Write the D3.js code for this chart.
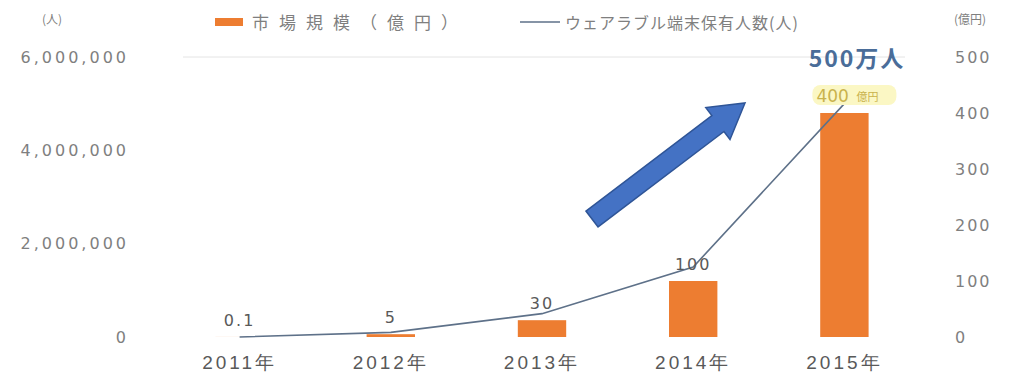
<!DOCTYPE html>
<html>
<head>
<meta charset="utf-8">
<script src="https://cdn.jsdelivr.net/npm/d3@7"></script>
<style>
  body { margin: 0; background: #fff; }
  svg { display: block; font-family: "Noto Sans CJK JP", "DejaVu Sans", sans-serif; }
</style>
</head>
<body>
<svg id="chart" width="1017" height="378"></svg>
<script>
const years = ["2011年", "2012年", "2013年", "2014年", "2015年"];
const marketSize = [0.1, 5, 30, 100, 400];          // 億円 (right axis)
const marketLabels = ["0.1", "5", "30", "100", "400億円"];
const users = [0, 100000, 500000, 1500000, 5000000]; // 人 (left axis)
const leftTicks = [0, 2000000, 4000000, 6000000];
const rightTicks = [0, 100, 200, 300, 400, 500];

const barColor = "#ed7d31";
const lineColor = "#5e7189";
const textGray = "#7f7f7f";

const svg = d3.select("#chart");
const plotLeft = 164, plotRight = 920, plotTop = 57, plotBottom = 337;

const x = d3.scaleBand().domain(years).range([plotLeft, plotRight])
    .paddingInner(0.68).paddingOuter(0.34);
const yL = d3.scaleLinear().domain([0, 6000000]).range([plotBottom, plotTop]);
const yR = d3.scaleLinear().domain([0, 500]).range([plotBottom, plotTop]);

// top gridline
svg.append("line")
    .attr("x1", 183).attr("x2", 905)
    .attr("y1", yL(6000000)).attr("y2", yL(6000000))
    .attr("stroke", "#e4e4e4").attr("stroke-width", 1);

// left axis
const gL = svg.append("g").attr("transform", "translate(129,0)")
    .call(d3.axisLeft(yL).tickValues(leftTicks).tickFormat(d3.format(",")).tickSize(0).tickPadding(0));
gL.select(".domain").remove();
gL.selectAll("text").attr("fill", textGray).attr("font-size", 16)
    .attr("letter-spacing", 3).attr("font-family", "DejaVu Sans");

// right axis
const gR = svg.append("g").attr("transform", "translate(955,0)")
    .call(d3.axisRight(yR).tickValues(rightTicks).tickSize(0).tickPadding(0));
gR.select(".domain").remove();
gR.selectAll("text").attr("fill", textGray).attr("font-size", 16)
    .attr("letter-spacing", 2).attr("font-family", "DejaVu Sans");

// bottom axis
const gB = svg.append("g").attr("transform", `translate(0,${plotBottom})`)
    .call(d3.axisBottom(x).tickSize(0).tickPadding(19));
gB.select(".domain").remove();
gB.selectAll("text").attr("fill", "#595959").attr("font-size", 19)
    .attr("letter-spacing", 3);

// axis unit labels
svg.append("text").attr("x", 52).attr("y", 24).attr("text-anchor", "middle")
    .attr("font-size", 12).attr("fill", textGray).text("(人)");
svg.append("text").attr("x", 970).attr("y", 24).attr("text-anchor", "middle")
    .attr("font-size", 12).attr("fill", textGray).text("(億円)");

// bars
svg.append("g").selectAll("rect")
    .data(years)
    .enter()
    .append("rect")
    .attr("x", d => x(d))
    .attr("width", x.bandwidth())
    .attr("y", (d, i) => yR(marketSize[i]))
    .attr("height", (d, i) => plotBottom - yR(marketSize[i]))
    .attr("fill", barColor);

// line
const line = d3.line()
    .x((d, i) => x(years[i]) + x.bandwidth() / 2)
    .y(d => yL(d));
svg.append("path")
    .datum(users)
    .attr("d", line)
    .attr("fill", "none")
    .attr("stroke", lineColor)
    .attr("stroke-width", 1.6);

// data labels (bar values)
years.forEach((yr, i) => {
    const cx = x(yr) + x.bandwidth() / 2;
    const cy = yR(marketSize[i]) - 17;
    if (i === years.length - 1) {
        const g = svg.append("g");
        g.append("rect").attr("x", cx - 32).attr("y", cy - 11)
            .attr("width", 84).attr("height", 20).attr("rx", 8)
            .attr("fill", "#fbf7c4");
        g.append("text").attr("x", cx - 28).attr("y", cy + 6)
            .attr("font-size", 17).attr("fill", "#c9b24c")
            .attr("font-family", "DejaVu Sans").text("400");
        g.append("text").attr("x", cx + 12).attr("y", cy + 5)
            .attr("font-size", 11).attr("fill", "#c9b24c").text("億円");
    } else {
        svg.append("text").attr("x", cx).attr("y", cy + 6)
            .attr("text-anchor", "middle").attr("font-size", 16)
            .attr("letter-spacing", 2).attr("font-family", "DejaVu Sans")
            .attr("fill", "#595959").text(marketLabels[i]);
    }
});

// annotation
svg.append("text").attr("x", 857).attr("y", 67).attr("text-anchor", "middle")
    .attr("font-size", 23).attr("font-weight", "bold").attr("fill", "#4a6d99")
    .attr("letter-spacing", 2)
    .text("500万人");

// block arrow
const tail = [592, 219], tip = [745, 103];
const len = Math.hypot(tip[0] - tail[0], tip[1] - tail[1]);
const ang = Math.atan2(tip[1] - tail[1], tip[0] - tail[0]) * 180 / Math.PI;
const sw = 10, hw = 20, hl = 34;
svg.append("path")
    .attr("transform", `translate(${tail[0]},${tail[1]}) rotate(${ang})`)
    .attr("d", `M0,${-sw} L${len - hl},${-sw} L${len - hl},${-hw} L${len},0 L${len - hl},${hw} L${len - hl},${sw} L0,${sw} Z`)
    .attr("fill", "#4472c4").attr("stroke", "#2f5597").attr("stroke-width", 1.5);

// legend
const lg = svg.append("g");
lg.append("rect").attr("x", 215).attr("y", 18).attr("width", 28).attr("height", 8).attr("fill", barColor);
lg.append("text").attr("x", 252).attr("y", 29).attr("font-size", 17)
    .attr("letter-spacing", 10).attr("fill", textGray).text("市場規模（億円）");
lg.append("line").attr("x1", 520).attr("x2", 560).attr("y1", 22).attr("y2", 22)
    .attr("stroke", lineColor).attr("stroke-width", 1.6);
lg.append("text").attr("x", 565).attr("y", 29).attr("font-size", 16)
    .attr("letter-spacing", 1).attr("fill", textGray).text("ウェアラブル端末保有人数(人)");
</script>
</body>
</html>
